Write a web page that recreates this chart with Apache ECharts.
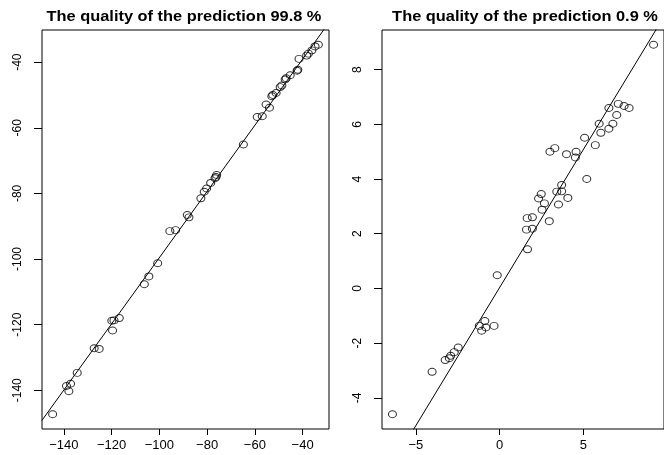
<!DOCTYPE html>
<html>
<head>
<meta charset="utf-8">
<script src="https://cdn.jsdelivr.net/npm/echarts@6/dist/echarts.min.js"></script>
<style>html,body{margin:0;padding:0;background:#fff;}#c{width:664px;height:455px;}</style>
</head>
<body>
<div id="c"></div>
<script>
// Left panel: observed vs predicted
const leftX = [-33.4,-34.8,-36.1,-37.6,-38.3,-41.5,-42.0,-42.3,-45.2,-46.9,-47.3,-48.7,-49.4,-51.1,-52.9,-52.5,-53.9,-55.3,-56.9,-59.0,-64.8,-76.0,-76.3,-76.7,-78.5,-80.2,-81.2,-82.6,-87.6,-88.3,-93.2,-95.6,-100.7,-104.4,-106.3,-116.8,-119.0,-119.9,-119.6,-125.2,-127.3,-134.4,-137.2,-138.9,-137.9,-144.7];
const leftY = [-34.7,-35.2,-36.4,-37.4,-38.0,-39.0,-42.3,-42.6,-44.0,-44.9,-45.3,-47.1,-47.6,-49.4,-50.4,-50.0,-53.9,-52.9,-56.5,-56.7,-65.1,-74.4,-75.0,-75.4,-76.8,-78.5,-79.5,-81.5,-87.3,-86.6,-91.2,-91.5,-101.3,-105.3,-107.7,-118.0,-118.7,-118.8,-121.8,-127.4,-127.2,-134.7,-138.0,-138.7,-140.3,-147.3];
// Right panel
const rightX = [9.2,6.53,7.09,7.44,7.74,7.00,5.95,6.77,6.53,6.05,5.08,5.72,3.01,3.30,4.00,4.57,4.53,5.21,3.71,3.42,3.71,4.08,3.52,2.49,2.33,2.68,2.54,2.97,1.65,1.96,1.61,1.96,1.67,-0.14,-0.88,-1.21,-0.82,-1.07,-0.33,-2.47,-2.71,-2.92,-3.00,-3.25,-4.03,-6.40];
const rightY = [8.91,6.60,6.75,6.67,6.60,6.34,6.02,6.02,5.84,5.69,5.51,5.24,5.00,5.13,4.91,5.00,4.79,4.00,3.78,3.54,3.55,3.31,3.07,3.45,3.29,3.11,2.88,2.46,2.57,2.60,2.15,2.18,1.43,0.48,-1.19,-1.37,-1.43,-1.55,-1.37,-2.16,-2.33,-2.46,-2.55,-2.62,-3.05,-4.60];
// Fitted lines: [slope, intercept]
const leftFit = [1.0085, 1.27];
const rightFit = [1.009, 0.03];
// Tick labels
const leftXTicks = [-140,-120,-100,-80,-60,-40];
const leftYTicks = [-140,-120,-100,-80,-60,-40];
const rightXTicks = [-5,0,5];
const rightYTicks = [-4,-2,0,2,4,6,8];
const titles = ['The quality of the prediction 99.8 %', 'The quality of the prediction 0.9 %'];

function rlim(arr){
  const mn = Math.min(...arr), mx = Math.max(...arr), r = mx - mn;
  return [mn - 0.04*r, mx + 0.04*r];
}
function fmtX(v){ return String(v).replace('-', '\u2212'); }
function fmtY(v){ return String(v); }
function zip(a,b){ return a.map((v,i)=>[v,b[i]]); }

const lxl = rlim(leftX), lyl = rlim(leftY), rxl = rlim(rightX), ryl = rlim(rightY);
const font = 'Liberation Sans, Arial, Helvetica, sans-serif';

function xAxis(idx, lim, ticks){
  return {type:'value', gridIndex: idx, min: lim[0], max: lim[1], splitLine:{show:false},
    axisLine:{show:false, onZero:false}, axisTick:{show:true, inside:false, length:6, lineStyle:{color:'#000'}, customValues: ticks},
    axisLabel:{show:true, customValues: ticks, formatter: fmtX, color:'#000', fontSize:13, fontFamily: font, margin: 10}};
}
function yAxis(idx, lim, ticks){
  return {type:'value', gridIndex: idx, min: lim[0], max: lim[1], splitLine:{show:false},
    axisLine:{show:false, onZero:false}, axisTick:{show:true, inside:false, length:8, lineStyle:{color:'#000'}, customValues: ticks},
    axisLabel:{show:true, customValues: ticks, formatter: fmtY, rotate: 90, color:'#000', fontSize:12, fontFamily: font, margin: 18}};
}
function fitLine(fit, lim){
  return [[lim[0], fit[0]*lim[0]+fit[1]], [lim[1], fit[0]*lim[1]+fit[1]]];
}
const scatterStyle = {color:'rgba(0,0,0,0)', borderColor:'#000', borderWidth:1};

const chart = echarts.init(document.getElementById('c'), null, {renderer:'canvas'});
chart.setOption({
  animation:false,
  backgroundColor:'#fff',
  grid:[
    {left:42, top:30, width:287, height:399, show:true, borderColor:'#000', borderWidth:1, backgroundColor:'transparent'},
    {left:382, top:30, width:289, height:399, show:true, borderColor:'#000', borderWidth:1, backgroundColor:'transparent'}
  ],
  graphic:[
    {type:'text', x:184, y:17.5, scaleX:1.17, style:{text: titles[0], font:'bold 14px '+font, fill:'#000', textAlign:'center', textVerticalAlign:'middle'}},
    {type:'text', x:525, y:17.5, scaleX:1.17, style:{text: titles[1], font:'bold 14px '+font, fill:'#000', textAlign:'center', textVerticalAlign:'middle'}}
  ],
  xAxis:[xAxis(0,lxl,leftXTicks), xAxis(1,rxl,rightXTicks)],
  yAxis:[yAxis(0,lyl,leftYTicks), yAxis(1,ryl,rightYTicks)],
  series:[
    {type:'line', xAxisIndex:0, yAxisIndex:0, data: fitLine(leftFit,lxl), showSymbol:false, clip:true, lineStyle:{color:'#000', width:1}},
    {type:'scatter', xAxisIndex:0, yAxisIndex:0, data: zip(leftX,leftY), symbol:'circle', symbolSize:[8,7], itemStyle: scatterStyle},
    {type:'line', xAxisIndex:1, yAxisIndex:1, data: fitLine(rightFit,rxl), showSymbol:false, clip:true, lineStyle:{color:'#000', width:1}},
    {type:'scatter', xAxisIndex:1, yAxisIndex:1, data: zip(rightX,rightY), symbol:'circle', symbolSize:[8,7], itemStyle: scatterStyle}
  ]
});
</script>
</body>
</html>
